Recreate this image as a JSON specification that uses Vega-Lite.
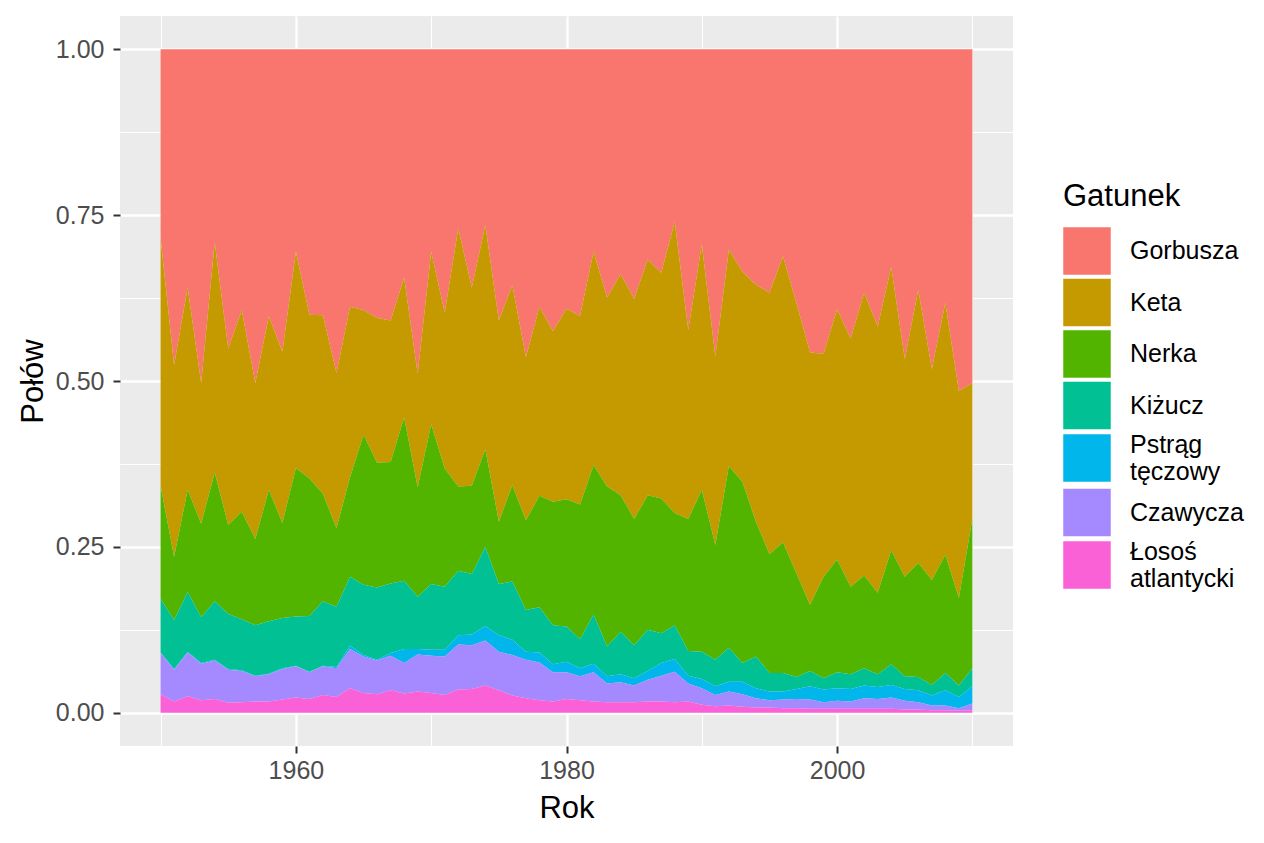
{
  "$schema": "https://vega.github.io/schema/vega-lite/v6.json",
  "description": "Udział gatunków łososia w połowach, 1950-2010",
  "width": 893,
  "height": 730,
  "autosize": {"type": "none"},
  "padding": {"left": 120, "top": 16, "right": 251, "bottom": 97},
  "background": "white",
  "config": {
    "font": "Liberation Sans",
    "view": {"fill": "#EBEBEB", "stroke": null},
    "axis": {
      "domain": false,
      "gridColor": "white",
      "tickColor": "#333333",
      "tickSize": 7,
      "tickWidth": 2,
      "labelFontSize": 25,
      "labelColor": "#4D4D4D",
      "titleFontSize": 31,
      "titleFontWeight": "normal",
      "titleColor": "black"
    },
    "legend": {
      "titleFontSize": 31,
      "titleFontWeight": "normal",
      "titleColor": "black",
      "labelFontSize": 25,
      "labelColor": "black"
    }
  },
  "data": {
    "values": [
      {"Rok":1950,"Gatunek":"Gorbusza","Polow":285},{"Rok":1950,"Gatunek":"Keta","Polow":373},{"Rok":1950,"Gatunek":"Nerka","Polow":170},{"Rok":1950,"Gatunek":"Kiżucz","Polow":81},{"Rok":1950,"Gatunek":"Pstrąg tęczowy","Polow":1},{"Rok":1950,"Gatunek":"Czawycza","Polow":62},{"Rok":1950,"Gatunek":"Łosoś atlantycki","Polow":28},
      {"Rok":1951,"Gatunek":"Gorbusza","Polow":476},{"Rok":1951,"Gatunek":"Keta","Polow":289},{"Rok":1951,"Gatunek":"Nerka","Polow":95},{"Rok":1951,"Gatunek":"Kiżucz","Polow":74},{"Rok":1951,"Gatunek":"Pstrąg tęczowy","Polow":1},{"Rok":1951,"Gatunek":"Czawycza","Polow":48},{"Rok":1951,"Gatunek":"Łosoś atlantycki","Polow":17},
      {"Rok":1952,"Gatunek":"Gorbusza","Polow":359},{"Rok":1952,"Gatunek":"Keta","Polow":305},{"Rok":1952,"Gatunek":"Nerka","Polow":154},{"Rok":1952,"Gatunek":"Kiżucz","Polow":90},{"Rok":1952,"Gatunek":"Pstrąg tęczowy","Polow":1},{"Rok":1952,"Gatunek":"Czawycza","Polow":66},{"Rok":1952,"Gatunek":"Łosoś atlantycki","Polow":25},
      {"Rok":1953,"Gatunek":"Gorbusza","Polow":503},{"Rok":1953,"Gatunek":"Keta","Polow":212},{"Rok":1953,"Gatunek":"Nerka","Polow":141},{"Rok":1953,"Gatunek":"Kiżucz","Polow":69},{"Rok":1953,"Gatunek":"Pstrąg tęczowy","Polow":1},{"Rok":1953,"Gatunek":"Czawycza","Polow":55},{"Rok":1953,"Gatunek":"Łosoś atlantycki","Polow":19},
      {"Rok":1954,"Gatunek":"Gorbusza","Polow":291},{"Rok":1954,"Gatunek":"Keta","Polow":347},{"Rok":1954,"Gatunek":"Nerka","Polow":194},{"Rok":1954,"Gatunek":"Kiżucz","Polow":88},{"Rok":1954,"Gatunek":"Pstrąg tęczowy","Polow":1},{"Rok":1954,"Gatunek":"Czawycza","Polow":58},{"Rok":1954,"Gatunek":"Łosoś atlantycki","Polow":21},
      {"Rok":1955,"Gatunek":"Gorbusza","Polow":451},{"Rok":1955,"Gatunek":"Keta","Polow":266},{"Rok":1955,"Gatunek":"Nerka","Polow":134},{"Rok":1955,"Gatunek":"Kiżucz","Polow":83},{"Rok":1955,"Gatunek":"Pstrąg tęczowy","Polow":1},{"Rok":1955,"Gatunek":"Czawycza","Polow":50},{"Rok":1955,"Gatunek":"Łosoś atlantycki","Polow":15},
      {"Rok":1956,"Gatunek":"Gorbusza","Polow":393},{"Rok":1956,"Gatunek":"Keta","Polow":304},{"Rok":1956,"Gatunek":"Nerka","Polow":162},{"Rok":1956,"Gatunek":"Kiżucz","Polow":77},{"Rok":1956,"Gatunek":"Pstrąg tęczowy","Polow":1},{"Rok":1956,"Gatunek":"Czawycza","Polow":47},{"Rok":1956,"Gatunek":"Łosoś atlantycki","Polow":16},
      {"Rok":1957,"Gatunek":"Gorbusza","Polow":503},{"Rok":1957,"Gatunek":"Keta","Polow":235},{"Rok":1957,"Gatunek":"Nerka","Polow":130},{"Rok":1957,"Gatunek":"Kiżucz","Polow":76},{"Rok":1957,"Gatunek":"Pstrąg tęczowy","Polow":1},{"Rok":1957,"Gatunek":"Czawycza","Polow":38},{"Rok":1957,"Gatunek":"Łosoś atlantycki","Polow":17},
      {"Rok":1958,"Gatunek":"Gorbusza","Polow":402},{"Rok":1958,"Gatunek":"Keta","Polow":262},{"Rok":1958,"Gatunek":"Nerka","Polow":198},{"Rok":1958,"Gatunek":"Kiżucz","Polow":79},{"Rok":1958,"Gatunek":"Pstrąg tęczowy","Polow":1},{"Rok":1958,"Gatunek":"Czawycza","Polow":41},{"Rok":1958,"Gatunek":"Łosoś atlantycki","Polow":17},
      {"Rok":1959,"Gatunek":"Gorbusza","Polow":456},{"Rok":1959,"Gatunek":"Keta","Polow":258},{"Rok":1959,"Gatunek":"Nerka","Polow":143},{"Rok":1959,"Gatunek":"Kiżucz","Polow":76},{"Rok":1959,"Gatunek":"Pstrąg tęczowy","Polow":1},{"Rok":1959,"Gatunek":"Czawycza","Polow":46},{"Rok":1959,"Gatunek":"Łosoś atlantycki","Polow":20},
      {"Rok":1960,"Gatunek":"Gorbusza","Polow":305},{"Rok":1960,"Gatunek":"Keta","Polow":326},{"Rok":1960,"Gatunek":"Nerka","Polow":224},{"Rok":1960,"Gatunek":"Kiżucz","Polow":74},{"Rok":1960,"Gatunek":"Pstrąg tęczowy","Polow":1},{"Rok":1960,"Gatunek":"Czawycza","Polow":47},{"Rok":1960,"Gatunek":"Łosoś atlantycki","Polow":23},
      {"Rok":1961,"Gatunek":"Gorbusza","Polow":400},{"Rok":1961,"Gatunek":"Keta","Polow":247},{"Rok":1961,"Gatunek":"Nerka","Polow":207},{"Rok":1961,"Gatunek":"Kiżucz","Polow":84},{"Rok":1961,"Gatunek":"Pstrąg tęczowy","Polow":1},{"Rok":1961,"Gatunek":"Czawycza","Polow":40},{"Rok":1961,"Gatunek":"Łosoś atlantycki","Polow":21},
      {"Rok":1962,"Gatunek":"Gorbusza","Polow":401},{"Rok":1962,"Gatunek":"Keta","Polow":269},{"Rok":1962,"Gatunek":"Nerka","Polow":162},{"Rok":1962,"Gatunek":"Kiżucz","Polow":97},{"Rok":1962,"Gatunek":"Pstrąg tęczowy","Polow":1},{"Rok":1962,"Gatunek":"Czawycza","Polow":43},{"Rok":1962,"Gatunek":"Łosoś atlantycki","Polow":27},
      {"Rok":1963,"Gatunek":"Gorbusza","Polow":488},{"Rok":1963,"Gatunek":"Keta","Polow":234},{"Rok":1963,"Gatunek":"Nerka","Polow":118},{"Rok":1963,"Gatunek":"Kiżucz","Polow":91},{"Rok":1963,"Gatunek":"Pstrąg tęczowy","Polow":2},{"Rok":1963,"Gatunek":"Czawycza","Polow":43},{"Rok":1963,"Gatunek":"Łosoś atlantycki","Polow":24},
      {"Rok":1964,"Gatunek":"Gorbusza","Polow":388},{"Rok":1964,"Gatunek":"Keta","Polow":257},{"Rok":1964,"Gatunek":"Nerka","Polow":150},{"Rok":1964,"Gatunek":"Kiżucz","Polow":104},{"Rok":1964,"Gatunek":"Pstrąg tęczowy","Polow":5},{"Rok":1964,"Gatunek":"Czawycza","Polow":59},{"Rok":1964,"Gatunek":"Łosoś atlantycki","Polow":37},
      {"Rok":1965,"Gatunek":"Gorbusza","Polow":393},{"Rok":1965,"Gatunek":"Keta","Polow":188},{"Rok":1965,"Gatunek":"Nerka","Polow":226},{"Rok":1965,"Gatunek":"Kiżucz","Polow":106},{"Rok":1965,"Gatunek":"Pstrąg tęczowy","Polow":2},{"Rok":1965,"Gatunek":"Czawycza","Polow":55},{"Rok":1965,"Gatunek":"Łosoś atlantycki","Polow":30},
      {"Rok":1966,"Gatunek":"Gorbusza","Polow":405},{"Rok":1966,"Gatunek":"Keta","Polow":218},{"Rok":1966,"Gatunek":"Nerka","Polow":188},{"Rok":1966,"Gatunek":"Kiżucz","Polow":109},{"Rok":1966,"Gatunek":"Pstrąg tęczowy","Polow":1},{"Rok":1966,"Gatunek":"Czawycza","Polow":51},{"Rok":1966,"Gatunek":"Łosoś atlantycki","Polow":28},
      {"Rok":1967,"Gatunek":"Gorbusza","Polow":409},{"Rok":1967,"Gatunek":"Keta","Polow":213},{"Rok":1967,"Gatunek":"Nerka","Polow":183},{"Rok":1967,"Gatunek":"Kiżucz","Polow":105},{"Rok":1967,"Gatunek":"Pstrąg tęczowy","Polow":4},{"Rok":1967,"Gatunek":"Czawycza","Polow":52},{"Rok":1967,"Gatunek":"Łosoś atlantycki","Polow":34},
      {"Rok":1968,"Gatunek":"Gorbusza","Polow":344},{"Rok":1968,"Gatunek":"Keta","Polow":211},{"Rok":1968,"Gatunek":"Nerka","Polow":246},{"Rok":1968,"Gatunek":"Kiżucz","Polow":103},{"Rok":1968,"Gatunek":"Pstrąg tęczowy","Polow":21},{"Rok":1968,"Gatunek":"Czawycza","Polow":46},{"Rok":1968,"Gatunek":"Łosoś atlantycki","Polow":29},
      {"Rok":1969,"Gatunek":"Gorbusza","Polow":489},{"Rok":1969,"Gatunek":"Keta","Polow":171},{"Rok":1969,"Gatunek":"Nerka","Polow":165},{"Rok":1969,"Gatunek":"Kiżucz","Polow":79},{"Rok":1969,"Gatunek":"Pstrąg tęczowy","Polow":8},{"Rok":1969,"Gatunek":"Czawycza","Polow":56},{"Rok":1969,"Gatunek":"Łosoś atlantycki","Polow":32},
      {"Rok":1970,"Gatunek":"Gorbusza","Polow":305},{"Rok":1970,"Gatunek":"Keta","Polow":260},{"Rok":1970,"Gatunek":"Nerka","Polow":241},{"Rok":1970,"Gatunek":"Kiżucz","Polow":99},{"Rok":1970,"Gatunek":"Pstrąg tęczowy","Polow":9},{"Rok":1970,"Gatunek":"Czawycza","Polow":56},{"Rok":1970,"Gatunek":"Łosoś atlantycki","Polow":30},
      {"Rok":1971,"Gatunek":"Gorbusza","Polow":397},{"Rok":1971,"Gatunek":"Keta","Polow":235},{"Rok":1971,"Gatunek":"Nerka","Polow":178},{"Rok":1971,"Gatunek":"Kiżucz","Polow":95},{"Rok":1971,"Gatunek":"Pstrąg tęczowy","Polow":10},{"Rok":1971,"Gatunek":"Czawycza","Polow":58},{"Rok":1971,"Gatunek":"Łosoś atlantycki","Polow":27},
      {"Rok":1972,"Gatunek":"Gorbusza","Polow":270},{"Rok":1972,"Gatunek":"Keta","Polow":389},{"Rok":1972,"Gatunek":"Nerka","Polow":127},{"Rok":1972,"Gatunek":"Kiżucz","Polow":97},{"Rok":1972,"Gatunek":"Pstrąg tęczowy","Polow":14},{"Rok":1972,"Gatunek":"Czawycza","Polow":68},{"Rok":1972,"Gatunek":"Łosoś atlantycki","Polow":35},
      {"Rok":1973,"Gatunek":"Gorbusza","Polow":359},{"Rok":1973,"Gatunek":"Keta","Polow":299},{"Rok":1973,"Gatunek":"Nerka","Polow":133},{"Rok":1973,"Gatunek":"Kiżucz","Polow":91},{"Rok":1973,"Gatunek":"Pstrąg tęczowy","Polow":16},{"Rok":1973,"Gatunek":"Czawycza","Polow":66},{"Rok":1973,"Gatunek":"Łosoś atlantycki","Polow":36},
      {"Rok":1974,"Gatunek":"Gorbusza","Polow":265},{"Rok":1974,"Gatunek":"Keta","Polow":338},{"Rok":1974,"Gatunek":"Nerka","Polow":147},{"Rok":1974,"Gatunek":"Kiżucz","Polow":119},{"Rok":1974,"Gatunek":"Pstrąg tęczowy","Polow":22},{"Rok":1974,"Gatunek":"Czawycza","Polow":68},{"Rok":1974,"Gatunek":"Łosoś atlantycki","Polow":41},
      {"Rok":1975,"Gatunek":"Gorbusza","Polow":409},{"Rok":1975,"Gatunek":"Keta","Polow":303},{"Rok":1975,"Gatunek":"Nerka","Polow":94},{"Rok":1975,"Gatunek":"Kiżucz","Polow":77},{"Rok":1975,"Gatunek":"Pstrąg tęczowy","Polow":25},{"Rok":1975,"Gatunek":"Czawycza","Polow":58},{"Rok":1975,"Gatunek":"Łosoś atlantycki","Polow":34},
      {"Rok":1976,"Gatunek":"Gorbusza","Polow":356},{"Rok":1976,"Gatunek":"Keta","Polow":301},{"Rok":1976,"Gatunek":"Nerka","Polow":145},{"Rok":1976,"Gatunek":"Kiżucz","Polow":88},{"Rok":1976,"Gatunek":"Pstrąg tęczowy","Polow":23},{"Rok":1976,"Gatunek":"Czawycza","Polow":61},{"Rok":1976,"Gatunek":"Łosoś atlantycki","Polow":26},
      {"Rok":1977,"Gatunek":"Gorbusza","Polow":464},{"Rok":1977,"Gatunek":"Keta","Polow":246},{"Rok":1977,"Gatunek":"Nerka","Polow":135},{"Rok":1977,"Gatunek":"Kiżucz","Polow":63},{"Rok":1977,"Gatunek":"Pstrąg tęczowy","Polow":12},{"Rok":1977,"Gatunek":"Czawycza","Polow":58},{"Rok":1977,"Gatunek":"Łosoś atlantycki","Polow":22},
      {"Rok":1978,"Gatunek":"Gorbusza","Polow":388},{"Rok":1978,"Gatunek":"Keta","Polow":285},{"Rok":1978,"Gatunek":"Nerka","Polow":168},{"Rok":1978,"Gatunek":"Kiżucz","Polow":68},{"Rok":1978,"Gatunek":"Pstrąg tęczowy","Polow":15},{"Rok":1978,"Gatunek":"Czawycza","Polow":57},{"Rok":1978,"Gatunek":"Łosoś atlantycki","Polow":19},
      {"Rok":1979,"Gatunek":"Gorbusza","Polow":425},{"Rok":1979,"Gatunek":"Keta","Polow":257},{"Rok":1979,"Gatunek":"Nerka","Polow":186},{"Rok":1979,"Gatunek":"Kiżucz","Polow":59},{"Rok":1979,"Gatunek":"Pstrąg tęczowy","Polow":12},{"Rok":1979,"Gatunek":"Czawycza","Polow":44},{"Rok":1979,"Gatunek":"Łosoś atlantycki","Polow":17},
      {"Rok":1980,"Gatunek":"Gorbusza","Polow":391},{"Rok":1980,"Gatunek":"Keta","Polow":287},{"Rok":1980,"Gatunek":"Nerka","Polow":192},{"Rok":1980,"Gatunek":"Kiżucz","Polow":53},{"Rok":1980,"Gatunek":"Pstrąg tęczowy","Polow":16},{"Rok":1980,"Gatunek":"Czawycza","Polow":40},{"Rok":1980,"Gatunek":"Łosoś atlantycki","Polow":21},
      {"Rok":1981,"Gatunek":"Gorbusza","Polow":402},{"Rok":1981,"Gatunek":"Keta","Polow":284},{"Rok":1981,"Gatunek":"Nerka","Polow":203},{"Rok":1981,"Gatunek":"Kiżucz","Polow":44},{"Rok":1981,"Gatunek":"Pstrąg tęczowy","Polow":12},{"Rok":1981,"Gatunek":"Czawycza","Polow":36},{"Rok":1981,"Gatunek":"Łosoś atlantycki","Polow":19},
      {"Rok":1982,"Gatunek":"Gorbusza","Polow":305},{"Rok":1982,"Gatunek":"Keta","Polow":322},{"Rok":1982,"Gatunek":"Nerka","Polow":225},{"Rok":1982,"Gatunek":"Kiżucz","Polow":74},{"Rok":1982,"Gatunek":"Pstrąg tęczowy","Polow":13},{"Rok":1982,"Gatunek":"Czawycza","Polow":44},{"Rok":1982,"Gatunek":"Łosoś atlantycki","Polow":17},
      {"Rok":1983,"Gatunek":"Gorbusza","Polow":374},{"Rok":1983,"Gatunek":"Keta","Polow":285},{"Rok":1983,"Gatunek":"Nerka","Polow":241},{"Rok":1983,"Gatunek":"Kiżucz","Polow":45},{"Rok":1983,"Gatunek":"Pstrąg tęczowy","Polow":11},{"Rok":1983,"Gatunek":"Czawycza","Polow":28},{"Rok":1983,"Gatunek":"Łosoś atlantycki","Polow":16},
      {"Rok":1984,"Gatunek":"Gorbusza","Polow":339},{"Rok":1984,"Gatunek":"Keta","Polow":333},{"Rok":1984,"Gatunek":"Nerka","Polow":206},{"Rok":1984,"Gatunek":"Kiżucz","Polow":64},{"Rok":1984,"Gatunek":"Pstrąg tęczowy","Polow":12},{"Rok":1984,"Gatunek":"Czawycza","Polow":30},{"Rok":1984,"Gatunek":"Łosoś atlantycki","Polow":16},
      {"Rok":1985,"Gatunek":"Gorbusza","Polow":376},{"Rok":1985,"Gatunek":"Keta","Polow":332},{"Rok":1985,"Gatunek":"Nerka","Polow":190},{"Rok":1985,"Gatunek":"Kiżucz","Polow":50},{"Rok":1985,"Gatunek":"Pstrąg tęczowy","Polow":11},{"Rok":1985,"Gatunek":"Czawycza","Polow":25},{"Rok":1985,"Gatunek":"Łosoś atlantycki","Polow":16},
      {"Rok":1986,"Gatunek":"Gorbusza","Polow":317},{"Rok":1986,"Gatunek":"Keta","Polow":355},{"Rok":1986,"Gatunek":"Nerka","Polow":203},{"Rok":1986,"Gatunek":"Kiżucz","Polow":62},{"Rok":1986,"Gatunek":"Pstrąg tęczowy","Polow":13},{"Rok":1986,"Gatunek":"Czawycza","Polow":33},{"Rok":1986,"Gatunek":"Łosoś atlantycki","Polow":17},
      {"Rok":1987,"Gatunek":"Gorbusza","Polow":337},{"Rok":1987,"Gatunek":"Keta","Polow":340},{"Rok":1987,"Gatunek":"Nerka","Polow":203},{"Rok":1987,"Gatunek":"Kiżucz","Polow":45},{"Rok":1987,"Gatunek":"Pstrąg tęczowy","Polow":19},{"Rok":1987,"Gatunek":"Czawycza","Polow":39},{"Rok":1987,"Gatunek":"Łosoś atlantycki","Polow":17},
      {"Rok":1988,"Gatunek":"Gorbusza","Polow":260},{"Rok":1988,"Gatunek":"Keta","Polow":439},{"Rok":1988,"Gatunek":"Nerka","Polow":169},{"Rok":1988,"Gatunek":"Kiżucz","Polow":51},{"Rok":1988,"Gatunek":"Pstrąg tęczowy","Polow":19},{"Rok":1988,"Gatunek":"Czawycza","Polow":46},{"Rok":1988,"Gatunek":"Łosoś atlantycki","Polow":16},
      {"Rok":1989,"Gatunek":"Gorbusza","Polow":423},{"Rok":1989,"Gatunek":"Keta","Polow":285},{"Rok":1989,"Gatunek":"Nerka","Polow":199},{"Rok":1989,"Gatunek":"Kiżucz","Polow":37},{"Rok":1989,"Gatunek":"Pstrąg tęczowy","Polow":12},{"Rok":1989,"Gatunek":"Czawycza","Polow":27},{"Rok":1989,"Gatunek":"Łosoś atlantycki","Polow":17},
      {"Rok":1990,"Gatunek":"Gorbusza","Polow":294},{"Rok":1990,"Gatunek":"Keta","Polow":370},{"Rok":1990,"Gatunek":"Nerka","Polow":244},{"Rok":1990,"Gatunek":"Kiżucz","Polow":41},{"Rok":1990,"Gatunek":"Pstrąg tęczowy","Polow":14},{"Rok":1990,"Gatunek":"Czawycza","Polow":25},{"Rok":1990,"Gatunek":"Łosoś atlantycki","Polow":12},
      {"Rok":1991,"Gatunek":"Gorbusza","Polow":463},{"Rok":1991,"Gatunek":"Keta","Polow":284},{"Rok":1991,"Gatunek":"Nerka","Polow":173},{"Rok":1991,"Gatunek":"Kiżucz","Polow":40},{"Rok":1991,"Gatunek":"Pstrąg tęczowy","Polow":13},{"Rok":1991,"Gatunek":"Czawycza","Polow":17},{"Rok":1991,"Gatunek":"Łosoś atlantycki","Polow":10},
      {"Rok":1992,"Gatunek":"Gorbusza","Polow":302},{"Rok":1992,"Gatunek":"Keta","Polow":326},{"Rok":1992,"Gatunek":"Nerka","Polow":274},{"Rok":1992,"Gatunek":"Kiżucz","Polow":51},{"Rok":1992,"Gatunek":"Pstrąg tęczowy","Polow":15},{"Rok":1992,"Gatunek":"Czawycza","Polow":21},{"Rok":1992,"Gatunek":"Łosoś atlantycki","Polow":11},
      {"Rok":1993,"Gatunek":"Gorbusza","Polow":335},{"Rok":1993,"Gatunek":"Keta","Polow":317},{"Rok":1993,"Gatunek":"Nerka","Polow":273},{"Rok":1993,"Gatunek":"Kiżucz","Polow":28},{"Rok":1993,"Gatunek":"Pstrąg tęczowy","Polow":19},{"Rok":1993,"Gatunek":"Czawycza","Polow":19},{"Rok":1993,"Gatunek":"Łosoś atlantycki","Polow":9},
      {"Rok":1994,"Gatunek":"Gorbusza","Polow":355},{"Rok":1994,"Gatunek":"Keta","Polow":357},{"Rok":1994,"Gatunek":"Nerka","Polow":203},{"Rok":1994,"Gatunek":"Kiżucz","Polow":48},{"Rok":1994,"Gatunek":"Pstrąg tęczowy","Polow":15},{"Rok":1994,"Gatunek":"Czawycza","Polow":14},{"Rok":1994,"Gatunek":"Łosoś atlantycki","Polow":8},
      {"Rok":1995,"Gatunek":"Gorbusza","Polow":367},{"Rok":1995,"Gatunek":"Keta","Polow":394},{"Rok":1995,"Gatunek":"Nerka","Polow":179},{"Rok":1995,"Gatunek":"Kiżucz","Polow":28},{"Rok":1995,"Gatunek":"Pstrąg tęczowy","Polow":13},{"Rok":1995,"Gatunek":"Czawycza","Polow":11},{"Rok":1995,"Gatunek":"Łosoś atlantycki","Polow":8},
      {"Rok":1996,"Gatunek":"Gorbusza","Polow":312},{"Rok":1996,"Gatunek":"Keta","Polow":431},{"Rok":1996,"Gatunek":"Nerka","Polow":197},{"Rok":1996,"Gatunek":"Kiżucz","Polow":28},{"Rok":1996,"Gatunek":"Pstrąg tęczowy","Polow":12},{"Rok":1996,"Gatunek":"Czawycza","Polow":13},{"Rok":1996,"Gatunek":"Łosoś atlantycki","Polow":7},
      {"Rok":1997,"Gatunek":"Gorbusza","Polow":383},{"Rok":1997,"Gatunek":"Keta","Polow":407},{"Rok":1997,"Gatunek":"Nerka","Polow":156},{"Rok":1997,"Gatunek":"Kiżucz","Polow":18},{"Rok":1997,"Gatunek":"Pstrąg tęczowy","Polow":15},{"Rok":1997,"Gatunek":"Czawycza","Polow":14},{"Rok":1997,"Gatunek":"Łosoś atlantycki","Polow":7},
      {"Rok":1998,"Gatunek":"Gorbusza","Polow":457},{"Rok":1998,"Gatunek":"Keta","Polow":380},{"Rok":1998,"Gatunek":"Nerka","Polow":100},{"Rok":1998,"Gatunek":"Kiżucz","Polow":23},{"Rok":1998,"Gatunek":"Pstrąg tęczowy","Polow":20},{"Rok":1998,"Gatunek":"Czawycza","Polow":14},{"Rok":1998,"Gatunek":"Łosoś atlantycki","Polow":6},
      {"Rok":1999,"Gatunek":"Gorbusza","Polow":459},{"Rok":1999,"Gatunek":"Keta","Polow":336},{"Rok":1999,"Gatunek":"Nerka","Polow":153},{"Rok":1999,"Gatunek":"Kiżucz","Polow":17},{"Rok":1999,"Gatunek":"Pstrąg tęczowy","Polow":19},{"Rok":1999,"Gatunek":"Czawycza","Polow":10},{"Rok":1999,"Gatunek":"Łosoś atlantycki","Polow":6},
      {"Rok":2000,"Gatunek":"Gorbusza","Polow":392},{"Rok":2000,"Gatunek":"Keta","Polow":377},{"Rok":2000,"Gatunek":"Nerka","Polow":170},{"Rok":2000,"Gatunek":"Kiżucz","Polow":24},{"Rok":2000,"Gatunek":"Pstrąg tęczowy","Polow":19},{"Rok":2000,"Gatunek":"Czawycza","Polow":12},{"Rok":2000,"Gatunek":"Łosoś atlantycki","Polow":6},
      {"Rok":2001,"Gatunek":"Gorbusza","Polow":436},{"Rok":2001,"Gatunek":"Keta","Polow":374},{"Rok":2001,"Gatunek":"Nerka","Polow":132},{"Rok":2001,"Gatunek":"Kiżucz","Polow":22},{"Rok":2001,"Gatunek":"Pstrąg tęczowy","Polow":19},{"Rok":2001,"Gatunek":"Czawycza","Polow":11},{"Rok":2001,"Gatunek":"Łosoś atlantycki","Polow":6},
      {"Rok":2002,"Gatunek":"Gorbusza","Polow":367},{"Rok":2002,"Gatunek":"Keta","Polow":426},{"Rok":2002,"Gatunek":"Nerka","Polow":140},{"Rok":2002,"Gatunek":"Kiżucz","Polow":26},{"Rok":2002,"Gatunek":"Pstrąg tęczowy","Polow":19},{"Rok":2002,"Gatunek":"Czawycza","Polow":16},{"Rok":2002,"Gatunek":"Łosoś atlantycki","Polow":6},
      {"Rok":2003,"Gatunek":"Gorbusza","Polow":418},{"Rok":2003,"Gatunek":"Keta","Polow":401},{"Rok":2003,"Gatunek":"Nerka","Polow":123},{"Rok":2003,"Gatunek":"Kiżucz","Polow":19},{"Rok":2003,"Gatunek":"Pstrąg tęczowy","Polow":18},{"Rok":2003,"Gatunek":"Czawycza","Polow":15},{"Rok":2003,"Gatunek":"Łosoś atlantycki","Polow":6},
      {"Rok":2004,"Gatunek":"Gorbusza","Polow":328},{"Rok":2004,"Gatunek":"Keta","Polow":427},{"Rok":2004,"Gatunek":"Nerka","Polow":172},{"Rok":2004,"Gatunek":"Kiżucz","Polow":31},{"Rok":2004,"Gatunek":"Pstrąg tęczowy","Polow":19},{"Rok":2004,"Gatunek":"Czawycza","Polow":17},{"Rok":2004,"Gatunek":"Łosoś atlantycki","Polow":6},
      {"Rok":2005,"Gatunek":"Gorbusza","Polow":467},{"Rok":2005,"Gatunek":"Keta","Polow":328},{"Rok":2005,"Gatunek":"Nerka","Polow":150},{"Rok":2005,"Gatunek":"Kiżucz","Polow":19},{"Rok":2005,"Gatunek":"Pstrąg tęczowy","Polow":18},{"Rok":2005,"Gatunek":"Czawycza","Polow":13},{"Rok":2005,"Gatunek":"Łosoś atlantycki","Polow":5},
      {"Rok":2006,"Gatunek":"Gorbusza","Polow":363},{"Rok":2006,"Gatunek":"Keta","Polow":411},{"Rok":2006,"Gatunek":"Nerka","Polow":172},{"Rok":2006,"Gatunek":"Kiżucz","Polow":20},{"Rok":2006,"Gatunek":"Pstrąg tęczowy","Polow":18},{"Rok":2006,"Gatunek":"Czawycza","Polow":11},{"Rok":2006,"Gatunek":"Łosoś atlantycki","Polow":5},
      {"Rok":2007,"Gatunek":"Gorbusza","Polow":482},{"Rok":2007,"Gatunek":"Keta","Polow":318},{"Rok":2007,"Gatunek":"Nerka","Polow":158},{"Rok":2007,"Gatunek":"Kiżucz","Polow":16},{"Rok":2007,"Gatunek":"Pstrąg tęczowy","Polow":15},{"Rok":2007,"Gatunek":"Czawycza","Polow":7},{"Rok":2007,"Gatunek":"Łosoś atlantycki","Polow":4},
      {"Rok":2008,"Gatunek":"Gorbusza","Polow":382},{"Rok":2008,"Gatunek":"Keta","Polow":380},{"Rok":2008,"Gatunek":"Nerka","Polow":178},{"Rok":2008,"Gatunek":"Kiżucz","Polow":26},{"Rok":2008,"Gatunek":"Pstrąg tęczowy","Polow":23},{"Rok":2008,"Gatunek":"Czawycza","Polow":7},{"Rok":2008,"Gatunek":"Łosoś atlantycki","Polow":4},
      {"Rok":2009,"Gatunek":"Gorbusza","Polow":515},{"Rok":2009,"Gatunek":"Keta","Polow":312},{"Rok":2009,"Gatunek":"Nerka","Polow":132},{"Rok":2009,"Gatunek":"Kiżucz","Polow":17},{"Rok":2009,"Gatunek":"Pstrąg tęczowy","Polow":17},{"Rok":2009,"Gatunek":"Czawycza","Polow":4},{"Rok":2009,"Gatunek":"Łosoś atlantycki","Polow":3},
      {"Rok":2010,"Gatunek":"Gorbusza","Polow":503},{"Rok":2010,"Gatunek":"Keta","Polow":204},{"Rok":2010,"Gatunek":"Nerka","Polow":226},{"Rok":2010,"Gatunek":"Kiżucz","Polow":27},{"Rok":2010,"Gatunek":"Pstrąg tęczowy","Polow":26},{"Rok":2010,"Gatunek":"Czawycza","Polow":10},{"Rok":2010,"Gatunek":"Łosoś atlantycki","Polow":4}
    ]
  },
  "transform": [
    {"calculate": "indexof(['Łosoś atlantycki','Czawycza','Pstrąg tęczowy','Kiżucz','Nerka','Keta','Gorbusza'], datum.Gatunek)", "as": "kolejnosc"}
  ],
  "layer": [
    {
      "mark": {"type": "area", "opacity": 0},
      "encoding": {
        "x": {
          "field": "Rok", "type": "quantitative",
          "scale": {"domain": [1947, 2013], "nice": false, "zero": false},
          "axis": {"orient": "top", "values": [1950, 1970, 1990, 2010], "grid": true, "gridWidth": 1.1, "labels": false, "ticks": false, "title": null}
        },
        "y": {
          "field": "Polow", "type": "quantitative", "stack": "normalize",
          "scale": {"domain": [-0.05, 1.05], "nice": false, "zero": false},
          "axis": {"orient": "right", "values": [0.125, 0.375, 0.625, 0.875], "grid": true, "gridWidth": 1.1, "labels": false, "ticks": false, "title": null}
        }
      }
    },
    {
      "mark": {"type": "area", "opacity": 1},
      "encoding": {
        "x": {
          "field": "Rok", "type": "quantitative",
          "axis": {"orient": "bottom", "values": [1960, 1980, 2000], "format": "d", "grid": true, "gridWidth": 2.3, "labelPadding": 5, "titlePadding": 10, "title": "Rok"}
        },
        "y": {
          "field": "Polow", "type": "quantitative", "stack": "normalize",
          "axis": {"orient": "left", "values": [0, 0.25, 0.5, 0.75, 1], "labelExpr": "format(datum.value, '.2f')", "grid": true, "gridWidth": 2.3, "labelPadding": 9, "titlePadding": 6, "title": "Połów"}
        },
        "color": {
          "field": "Gatunek", "type": "nominal",
          "scale": {
            "domain": ["Gorbusza", "Keta", "Nerka", "Kiżucz", "Pstrąg tęczowy", "Czawycza", "Łosoś atlantycki"],
            "range": ["#F8766D", "#C49A00", "#53B400", "#00C094", "#00B6EB", "#A58AFF", "#FB61D7"]
          },
          "legend": {
            "title": "Gatunek",
            "orient": "none",
            "legendX": 943,
            "legendY": 166,
            "direction": "vertical",
            "padding": 0,
            "titlePadding": 14,
            "symbolType": "square",
            "symbolSize": 2256,
            "symbolStrokeWidth": 0,
            "symbolOpacity": 1,
            "rowPadding": 3.5,
            "labelOffset": 19,
            "labelExpr": "split(datum.label, ' ')",
            "encode": {"labels": {"update": {
              "lineHeight": {"value": 27},
              "dy": {"signal": "indexof(datum.label, ' ') >= 0 ? -13 : 0"}
            }}}
          }
        },
        "order": {"field": "kolejnosc", "type": "quantitative", "sort": "ascending"}
      }
    }
  ],
  "resolve": {"axis": {"x": "independent", "y": "independent"}}
}
